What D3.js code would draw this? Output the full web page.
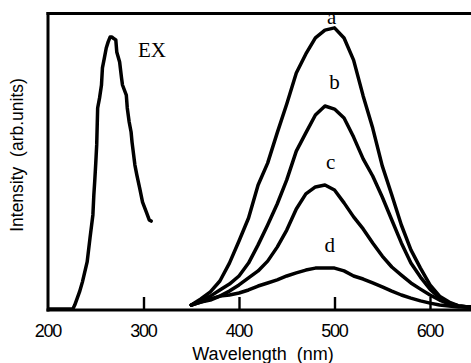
<!DOCTYPE html>
<html>
<head>
<meta charset="utf-8">
<script src="https://cdn.jsdelivr.net/npm/d3@7"></script>
<style>
  html, body { margin: 0; padding: 0; background: #fff; }
  svg { display: block; }
</style>
</head>
<body>
<svg id="chart" width="471" height="363"></svg>
<script>
// Excitation spectrum (EX)
const exWavelength = [200, 212, 226, 228, 233, 236, 241, 244, 247, 248, 249, 250, 251, 252, 254, 256, 257, 259, 261, 263, 265, 267, 268, 271, 272, 275, 277, 278, 282, 283, 285, 287, 288, 291, 293, 296, 299, 303, 306, 308];
const exIntensity  = [0, 0, 0, 1.4, 6.1, 9.6, 16.8, 25.4, 33.6, 40.7, 46, 52, 58.6, 71.8, 75.4, 80, 86.1, 89.6, 93.2, 95.4, 97.1, 97.1, 96.8, 96.1, 91.8, 88.2, 82.5, 80, 76.4, 71.8, 66.8, 63.2, 59.6, 51.4, 47.9, 43.2, 38.2, 34.6, 31.8, 31.4];

// Emission spectra a–d, sampled every 10 nm
const emWavelength = [350, 360, 370, 380, 390, 400, 410, 420, 430, 440, 450, 460, 470, 480, 490, 500, 510, 520, 530, 540, 550, 560, 570, 580, 590, 600, 610, 620, 630, 640, 650];
const emA = [1.4, 3.6, 6.1, 10, 16.4, 24.3, 32.5, 44.3, 52.1, 62.9, 73.2, 84.3, 91.1, 96.8, 99.6, 100.4, 96.8, 88.9, 76.1, 64.6, 51.1, 40.7, 30, 21.1, 14.6, 8.6, 4.6, 2.5, 1.1, 0.7, 0.7];
const emB = [1.4, 2.9, 4.6, 6.8, 8.9, 11.8, 16.4, 22.9, 30, 37.5, 46.1, 56.4, 62.9, 69.3, 72.5, 71.4, 68.2, 61.4, 53.6, 47.5, 40, 31.8, 23.6, 16.4, 11.4, 7.1, 3.9, 2.1, 1.1, 0.7, 0.7];
const emC = [1.4, 2.5, 3.2, 4.6, 6.4, 8.6, 11.1, 13.6, 17.1, 22.1, 28.2, 35.7, 41.1, 43.6, 44.3, 42.5, 37.9, 32.9, 28.6, 23.6, 18.9, 15, 12.1, 9.3, 7.1, 5, 3.2, 1.8, 1.1, 0.7, 0.7];
const emD = [1.4, 2.5, 3.6, 4.6, 5, 5.7, 6.8, 8.2, 9.3, 10.4, 11.8, 12.9, 13.9, 14.6, 14.6, 14.6, 13.6, 11.8, 10.7, 9.3, 7.9, 6.4, 5, 3.9, 2.9, 2.1, 1.4, 1.1, 0.7, 0.7, 0.7];

const xTicks = [200, 300, 400, 500, 600];
const seriesNames = ["a", "b", "c", "d"];
// label anchor positions in data units (wavelength, intensity)
const labelWavelength = [497, 500, 496, 495];
const labelIntensity = [101.8, 78.6, 50, 20.4];

const svg = d3.select("#chart");
const W = 471, H = 363;
const plotLeft = 48, plotBottom = 310, plotTop = 13.5;

const x = d3.scaleLinear().domain([200, 600]).range([plotLeft, 430]);
const y = d3.scaleLinear().domain([0, 100]).range([309, 29]);

svg.append("defs").append("clipPath").attr("id", "plot")
  .append("rect").attr("x", plotLeft).attr("y", plotTop).attr("width", W - plotLeft).attr("height", plotBottom - plotTop);

const line = d3.line().x(d => x(d[0])).y(d => y(d[1])).curve(d3.curveLinear);

const g = svg.append("g").attr("clip-path", "url(#plot)");

g.append("path")
  .datum(exWavelength.map((w, i) => [w, exIntensity[i]]))
  .attr("d", line)
  .attr("fill", "none").attr("stroke", "#000").attr("stroke-width", 3.5)
  .attr("stroke-linejoin", "round").attr("stroke-linecap", "round");

[emA, emB, emC, emD].forEach(vals => {
  g.append("path")
    .datum(emWavelength.map((w, i) => [w, vals[i]]))
    .attr("d", line)
    .attr("fill", "none").attr("stroke", "#000").attr("stroke-width", 3.5)
    .attr("stroke-linejoin", "round").attr("stroke-linecap", "round");
});

// frame: left, top and bottom edges
const frame = svg.append("g").attr("stroke", "#000").attr("stroke-width", 3);
frame.append("line").attr("x1", plotLeft).attr("x2", plotLeft).attr("y1", plotTop - 1.5).attr("y2", plotBottom + 1.5);
frame.append("line").attr("x1", plotLeft - 1.5).attr("x2", W).attr("y1", plotTop).attr("y2", plotTop);
frame.append("line").attr("x1", plotLeft - 1.5).attr("x2", W).attr("y1", plotBottom).attr("y2", plotBottom);

// bottom axis with inward ticks
const xAxis = d3.axisBottom(x).tickValues(xTicks).tickSize(0).tickPadding(0).tickFormat(d3.format("d"));
const ax = svg.append("g").attr("transform", `translate(0,${plotBottom})`).call(xAxis);
ax.select(".domain").remove();
ax.selectAll(".tick line")
  .attr("y1", 0).attr("y2", d => d === 200 ? 0 : -13)
  .attr("stroke", "#000").attr("stroke-width", 2.4);
ax.selectAll(".tick text")
  .attr("x", -0.6)
  .attr("y", 27).attr("dy", null)
  .attr("fill", "#000")
  .style("font-family", "'Liberation Sans', Arial, sans-serif")
  .style("font-size", "18px")
  .style("letter-spacing", "-1.3px");

// axis titles
svg.append("text")
  .attr("x", 263).attr("y", 360)
  .attr("text-anchor", "middle")
  .style("font-family", "'Liberation Sans', Arial, sans-serif")
  .style("font-size", "18px")
  .style("white-space", "pre")
  .text("Wavelength  (nm)");

svg.append("text")
  .attr("transform", "translate(23,155) rotate(-90)")
  .attr("text-anchor", "middle")
  .style("font-family", "'Liberation Sans', Arial, sans-serif")
  .style("font-size", "17.5px")
  .style("white-space", "pre")
  .text("Intensity  (arb.units)");

// curve labels
const serif = "'Liberation Serif', 'Times New Roman', serif";
seriesNames.forEach((n, i) => {
  svg.append("text")
    .attr("x", x(labelWavelength[i])).attr("y", y(labelIntensity[i]))
    .attr("text-anchor", "middle")
    .style("font-family", serif).style("font-size", "21px")
    .text(n);
});
svg.append("text")
  .attr("x", 138).attr("y", 57)
  .style("font-family", serif).style("font-size", "21px")
  .text("EX");
</script>
</body>
</html>
